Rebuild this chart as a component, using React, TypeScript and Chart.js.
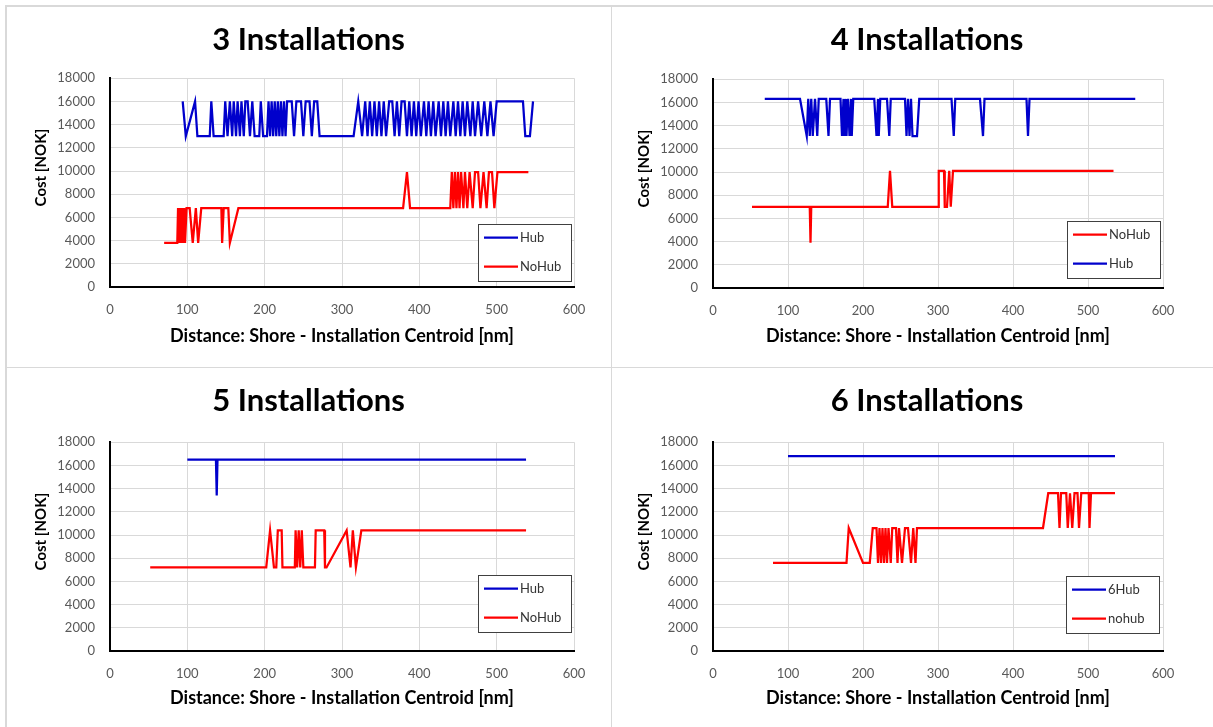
import React, { useEffect, useRef } from 'react';
import { Chart, registerables } from 'chart.js';

Chart.register(...registerables);

// ---------- axis / text ----------
const X_MIN = 0;
const X_MAX = 600;
const X_STEP = 100;
const Y_MIN = 0;
const Y_MAX = 18000;
const Y_STEP = 2000;

const chartTitles = ['3 Installations', '4 Installations', '5 Installations', '6 Installations'];
const xAxisTitle = 'Distance: Shore - Installation Centroid [nm]';
const yAxisTitle = 'Cost [NOK]';

const legend3 = ['Hub', 'NoHub'];
const legend4 = ['NoHub', 'Hub'];
const legend5 = ['Hub', 'NoHub'];
const legend6 = ['6Hub', 'nohub'];

// ---------- data: [distance nm, cost NOK] ----------
const hub3: [number, number][] = [
  [94, 16000], [98, 13000], [110, 16000], [113, 13000], [129, 13000], [131, 16000], [134, 13000],
  [147, 13000], [149, 16000], [152, 13000], [155, 16000], [158, 13000], [160, 16000], [163, 13000],
  [165, 16000], [168, 13000], [170, 16000], [173, 13000], [175, 16000], [178, 16000], [181, 13000],
  [184, 16000], [187, 13000], [193, 13000], [195, 16000], [198, 13000], [203, 13000], [205, 16000],
  [207, 13000], [209, 16000], [211, 13000], [213, 16000], [215, 13000], [217, 16000], [219, 13000],
  [221, 16000], [223, 13000], [225, 16000], [227, 13000], [229, 16000], [235, 16000], [238, 13000],
  [241, 16000], [247, 16000], [250, 13000], [253, 16000], [258, 16000], [261, 13000], [264, 16000],
  [268, 16000], [271, 13000], [315, 13000], [321, 16000], [326, 13000], [330, 16000], [333, 13000],
  [336, 16000], [339, 13000], [342, 16000], [345, 13000], [348, 16000], [351, 13000], [354, 16000],
  [357, 13000], [361, 16000], [365, 16000], [368, 13000], [371, 16000], [374, 13000], [377, 16000],
  [381, 16000], [384, 13000], [387, 16000], [390, 13000], [393, 16000], [396, 13000], [399, 16000],
  [402, 13000], [406, 16000], [409, 13000], [412, 16000], [415, 13000], [418, 16000], [421, 13000],
  [425, 16000], [428, 13000], [431, 16000], [434, 13000], [437, 16000], [440, 13000], [444, 16000],
  [447, 13000], [450, 16000], [453, 13000], [456, 16000], [459, 13000], [462, 16000], [466, 13000],
  [469, 16000], [472, 13000], [476, 16000], [480, 13000], [484, 16000], [488, 13000], [492, 16000],
  [496, 13000], [500, 16000], [534, 16000], [537, 13000], [543, 13000], [547, 16000],
];

const noHub3: [number, number][] = [
  [70, 3800], [87, 3800], [88, 6800], [89, 3800], [90, 6800], [91, 3800], [92, 6800], [93, 3800],
  [94, 6800], [95, 3800], [96, 6800], [97, 3800], [99, 6800], [103, 6800], [107, 3800], [111, 6800],
  [114, 3800], [118, 6800], [144, 6800], [145, 3800], [147, 6800], [153, 6800], [155, 3800],
  [166, 6800], [379, 6800], [384, 9900], [388, 6800], [440, 6800], [442, 9900], [444, 6800],
  [446, 9900], [448, 6800], [450, 9900], [452, 6800], [454, 9900], [457, 6800], [459, 9900],
  [462, 6800], [465, 9900], [469, 6800], [472, 9900], [476, 9900], [479, 6800], [483, 9900],
  [487, 6800], [490, 9900], [494, 9900], [497, 6800], [501, 9900], [541, 9900],
];

const hub4: [number, number][] = [
  [69, 16300], [116, 16300], [125, 13100], [127, 16300], [129, 13100], [131, 16300], [133, 13100],
  [136, 16300], [139, 13100], [141, 16300], [151, 16300], [154, 13100], [156, 16300], [170, 16300],
  [172, 13100], [174, 16300], [175, 13100], [177, 16300], [178, 13100], [180, 16300], [182, 13100],
  [184, 16300], [185, 13100], [187, 16300], [215, 16300], [218, 13100], [220, 16300], [221, 13100],
  [223, 16300], [232, 16300], [235, 13100], [237, 16300], [256, 16300], [258, 13100], [260, 16300],
  [262, 13100], [264, 16300], [266, 13100], [272, 13100], [275, 16300], [318, 16300], [321, 13100],
  [323, 16300], [356, 16300], [360, 13100], [362, 16300], [418, 16300], [420, 13100], [422, 16300],
  [563, 16300],
];

const noHub4: [number, number][] = [
  [52, 7000], [129, 7000], [130, 3900], [131, 7000], [233, 7000], [236, 10100], [239, 7000],
  [300, 7000], [301, 10100], [308, 10100], [309, 7000], [312, 7000], [315, 10100], [317, 7000],
  [320, 10100], [534, 10100],
];

const hub5: [number, number][] = [
  [100, 16500], [137, 16500], [138, 13400], [139, 16500], [538, 16500],
];

const noHub5: [number, number][] = [
  [52, 7200], [202, 7200], [207, 10400], [212, 7200], [215, 7200], [217, 10400], [222, 10400],
  [223, 7200], [239, 7200], [240, 10400], [242, 7200], [244, 10400], [246, 7200], [248, 10400],
  [250, 7200], [265, 7200], [266, 10400], [277, 10400], [278, 7200], [280, 7200], [306, 10400],
  [311, 7200], [314, 10400], [318, 7200], [325, 10400], [538, 10400],
];

const hub6: [number, number][] = [
  [100, 16800], [536, 16800],
];

const noHub6: [number, number][] = [
  [80, 7600], [178, 7600], [181, 10600], [200, 7600], [209, 7600], [213, 10600], [218, 10600],
  [220, 7600], [222, 10600], [224, 7600], [226, 10600], [228, 7600], [230, 10600], [232, 7600],
  [234, 10600], [237, 7600], [239, 10600], [244, 10600], [246, 7600], [248, 10600], [252, 7600],
  [256, 10600], [260, 10600], [264, 7600], [267, 10600], [270, 7600], [272, 10600], [440, 10600],
  [447, 13600], [460, 13600], [462, 10600], [464, 13600], [471, 13600], [473, 10600], [476, 13600],
  [479, 10600], [482, 13600], [486, 13600], [488, 10600], [491, 13600], [501, 13600], [502, 10600],
  [504, 13600], [536, 13600],
];

// ---------- styling ----------
const BLUE = '#0000CC';
const RED = '#FF0000';
const GRID = '#d9d9d9';
const TICK = '#595959';
const FONT = 'Lato';

type Series = { label: string; data: [number, number][]; color: string };
type Panel = {
  title: string;
  series: Series[];
  left: number; top: number; w: number; h: number;
  padL: number; yW: number; rW: number;
  titlePad: { top: number; bottom: number };
  xH: number; xTitlePadB: number;
  legendInset: { r: number; b: number };
};

const panels: Panel[] = [
  {
    title: chartTitles[0],
    series: [
      { label: legend3[0], data: hub3, color: BLUE },
      { label: legend3[1], data: noHub3, color: RED },
    ],
    left: 6, top: 6, w: 605, h: 361, padL: 0, yW: 104, rW: 37,
    titlePad: { top: 15, bottom: 20 }, xH: 80, xTitlePadB: 20, legendInset: { r: 3, b: 6 },
  },
  {
    title: chartTitles[1],
    series: [
      { label: legend4[0], data: noHub4, color: RED },
      { label: legend4[1], data: hub4, color: BLUE },
    ],
    left: 612, top: 6, w: 601, h: 361, padL: 29, yW: 72, rW: 50,
    titlePad: { top: 15, bottom: 21 }, xH: 79, xTitlePadB: 20, legendInset: { r: 3, b: 10 },
  },
  {
    title: chartTitles[2],
    series: [
      { label: legend5[0], data: hub5, color: BLUE },
      { label: legend5[1], data: noHub5, color: RED },
    ],
    left: 6, top: 368, w: 605, h: 359, padL: 0, yW: 104, rW: 37,
    titlePad: { top: 14, bottom: 23 }, xH: 76, xTitlePadB: 18, legendInset: { r: 3, b: 19 },
  },
  {
    title: chartTitles[3],
    series: [
      { label: legend6[0], data: hub6, color: BLUE },
      { label: legend6[1], data: noHub6, color: RED },
    ],
    left: 612, top: 368, w: 601, h: 359, padL: 29, yW: 72, rW: 50,
    titlePad: { top: 14, bottom: 23 }, xH: 76, xTitlePadB: 18, legendInset: { r: 4, b: 18 },
  },
];

function makeDecor(p: Panel) {
  return {
    id: 'excelDecor',
    afterDraw(chart: any) {
      const { ctx, chartArea: ca } = chart;
      ctx.save();
      // legend box
      const bw = 93;
      const bh = 57;
      const bx = Math.round(ca.right - p.legendInset.r - bw);
      const by = Math.round(ca.bottom - p.legendInset.b - bh);
      ctx.fillStyle = '#ffffff';
      ctx.fillRect(bx, by, bw, bh);
      ctx.strokeStyle = '#404040';
      ctx.lineWidth = 1;
      ctx.strokeRect(bx + 0.5, by + 0.5, bw, bh);
      chart.data.datasets.forEach((ds: any, i: number) => {
        const yy = by + 13.5 + i * 29;
        ctx.strokeStyle = ds.borderColor;
        ctx.lineWidth = 2.25;
        ctx.beginPath();
        ctx.moveTo(bx + 6, yy);
        ctx.lineTo(bx + 40, yy);
        ctx.stroke();
        ctx.fillStyle = '#333333';
        ctx.font = `13px ${FONT}`;
        ctx.textAlign = 'left';
        ctx.textBaseline = 'middle';
        ctx.fillText(ds.label, bx + 42, yy);
      });
      // y axis title
      ctx.translate(ca.left - 69, (ca.top + ca.bottom) / 2 - 15);
      ctx.rotate(-Math.PI / 2);
      ctx.fillStyle = '#000000';
      ctx.font = `bold 15px ${FONT}`;
      ctx.textAlign = 'center';
      ctx.textBaseline = 'middle';
      ctx.fillText(yAxisTitle, 0, 0);
      ctx.restore();
    },
  };
}

function PanelChart({ p }: { p: Panel }) {
  const ref = useRef<HTMLCanvasElement | null>(null);
  useEffect(() => {
    if (!ref.current) return;
    const chart = new Chart(ref.current, {
      type: 'line',
      data: {
        datasets: p.series.map((s) => ({
          label: s.label,
          data: s.data.map(([x, y]) => ({ x, y })),
          borderColor: s.color,
          backgroundColor: s.color,
          borderWidth: 2.25,
          pointRadius: 0,
          pointHoverRadius: 0,
          tension: 0,
          fill: false,
          xAxisID: 'x',
          yAxisID: 'y',
        })),
      },
      options: {
        responsive: false,
        maintainAspectRatio: false,
        animation: false,
        events: [],
        layout: { padding: { left: p.padL, right: 0, top: 0, bottom: 0 } },
        plugins: {
          legend: { display: false },
          tooltip: { enabled: false },
          title: {
            display: true,
            text: p.title,
            color: '#000000',
            font: { family: FONT, size: 31, weight: 'bold', lineHeight: 1.2 },
            padding: p.titlePad,
          },
        },
        scales: {
          x: {
            type: 'linear',
            position: 'bottom',
            min: X_MIN,
            max: X_MAX,
            ticks: {
              stepSize: X_STEP,
              color: TICK,
              font: { family: FONT, size: 13 },
              padding: 15,
              maxRotation: 0,
              callback: (v: any) => String(v),
            },
            grid: { color: GRID, lineWidth: 1, drawTicks: false },
            border: { display: true, color: '#000000', width: 2 },
            title: {
              display: true,
              text: xAxisTitle,
              color: '#000000',
              font: { family: FONT, size: 18, weight: 'bold', lineHeight: 1.2 },
              padding: { top: 0, bottom: p.xTitlePadB },
            },
            afterFit: (s: any) => { s.height = p.xH; },
          },
          y: {
            type: 'linear',
            position: 'left',
            min: Y_MIN,
            max: Y_MAX,
            ticks: {
              stepSize: Y_STEP,
              color: TICK,
              font: { family: FONT, size: 13 },
              padding: 15,
              callback: (v: any) => String(v),
            },
            grid: { color: GRID, lineWidth: 1, drawTicks: false },
            border: { display: true, color: '#000000', width: 2 },
            afterFit: (s: any) => { s.width = p.yW; },
          },
          yR: {
            type: 'linear',
            position: 'right',
            display: true,
            grid: { display: false, drawTicks: false },
            ticks: { display: false },
            border: { display: false },
            afterFit: (s: any) => { s.width = p.rW; },
          },
        },
      } as any,
      plugins: [makeDecor(p)],
    } as any);
    return () => chart.destroy();
  }, [p]);
  return (
    <canvas
      ref={ref}
      width={p.w}
      height={p.h}
      style={{ position: 'absolute', left: p.left, top: p.top, width: p.w, height: p.h }}
    />
  );
}

const lineStyle = (s: React.CSSProperties): React.CSSProperties => ({
  position: 'absolute',
  background: '#d9d9d9',
  ...s,
});

export default function App() {
  return (
    <div
      style={{
        position: 'fixed',
        left: 0,
        top: 0,
        width: 1213,
        height: 727,
        background: '#ffffff',
        overflow: 'hidden',
      }}
    >
      <div style={lineStyle({ left: 5, top: 5, width: 1208, height: 1.5 })} />
      <div style={lineStyle({ left: 5, top: 5, width: 1.5, height: 722 })} />
      <div style={lineStyle({ left: 610.5, top: 5, width: 1.5, height: 722 })} />
      <div style={lineStyle({ left: 5, top: 366.5, width: 1208, height: 1.5 })} />
      {panels.map((p, i) => (
        <PanelChart key={i} p={p} />
      ))}
    </div>
  );
}
